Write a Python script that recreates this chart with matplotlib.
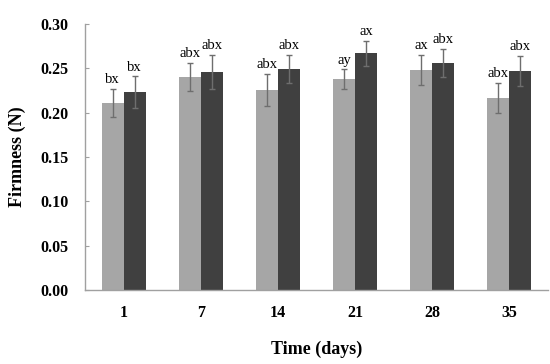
import matplotlib
matplotlib.use("Agg")
import matplotlib.pyplot as plt
import numpy as np

days = ["1", "7", "14", "21", "28", "35"]
light_vals = [0.211, 0.240, 0.226, 0.238, 0.248, 0.217]
light_err = [0.016, 0.016, 0.018, 0.011, 0.017, 0.017]
dark_vals = [0.223, 0.246, 0.249, 0.267, 0.256, 0.247]
dark_err = [0.018, 0.019, 0.016, 0.014, 0.016, 0.017]
light_labels = ["bx", "abx", "abx", "ay", "ax", "abx"]
dark_labels = ["bx", "abx", "abx", "ax", "abx", "abx"]

plt.rcParams['font.family'] = ['Liberation Serif', 'DejaVu Serif']

fig = plt.figure(figsize=(5.5, 3.64), dpi=100)
ax = fig.add_axes([0.1545, 0.2033, 0.8415, 0.7307])

x = np.arange(1, len(days) + 1)
w = 0.285
ekw = dict(ecolor="#6e6e6e", elinewidth=1.0, capsize=2.5, capthick=1.0)
ax.bar(x - w / 2, light_vals, w, color="#a6a6a6", yerr=light_err, error_kw=ekw)
ax.bar(x + w / 2, dark_vals, w, color="#404040", yerr=dark_err, error_kw=ekw)

for xi, v, e, s in zip(x - w / 2, light_vals, light_err, light_labels):
    ax.text(xi, v + e + 0.003, s, ha="center", va="bottom", fontsize=10.5)
for xi, v, e, s in zip(x + w / 2, dark_vals, dark_err, dark_labels):
    ax.text(xi, v + e + 0.003, s, ha="center", va="bottom", fontsize=10.5)

ax.set_xlim(0.5, 6.5)
ax.set_ylim(0, 0.30)
ax.set_yticks(np.arange(0, 0.31, 0.05))
ax.set_yticklabels([f"{t:.2f}" for t in np.arange(0, 0.31, 0.05)], fontweight="bold", fontsize=11.5)
ax.set_xticks(x)
ax.set_xticklabels(days, fontweight="bold", fontsize=11.5)
ax.tick_params(axis="x", length=0, pad=11)
ax.tick_params(axis="y", length=3, direction="in", color="#a0a0a0", pad=12)

for sp in ["top", "right"]:
    ax.spines[sp].set_visible(False)
for sp in ["left", "bottom"]:
    ax.spines[sp].set_color("#a0a0a0")
    ax.spines[sp].set_linewidth(1.0)

ax.set_ylabel("Firmness (N)", fontweight="bold", fontsize=13, labelpad=10)
ax.set_xlabel("Time (days)", fontweight="bold", fontsize=13, labelpad=14)

fig.savefig("out.png", dpi=100)
